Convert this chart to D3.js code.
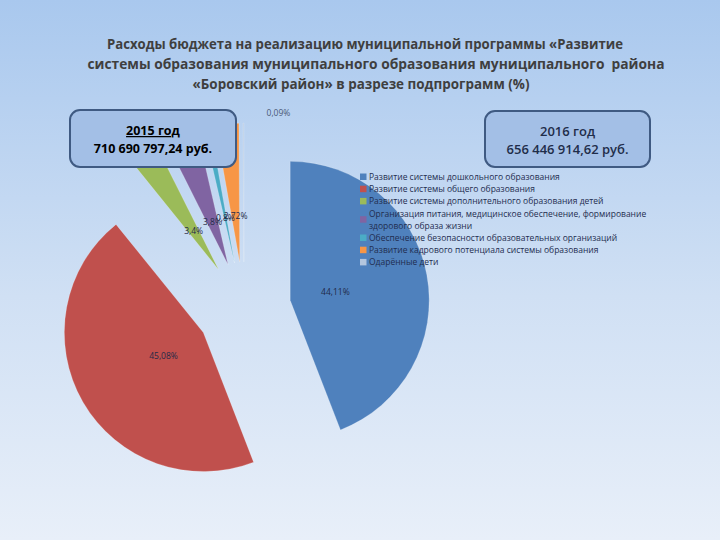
<!DOCTYPE html>
<html><head><meta charset="utf-8">
<script src="https://cdn.jsdelivr.net/npm/d3@7"></script>
<style>html,body{margin:0;padding:0;}svg{display:block;}</style>
</head><body>
<script>
const titleLines = [
  "Расходы бюджета на реализацию муниципальной программы «Развитие",
  "системы образования муниципального образования муниципального  района",
  "«Боровский район» в разрезе подпрограмм (%)"
];
const categories = [
  ["Развитие системы дошкольного образования"],
  ["Развитие системы общего образования"],
  ["Развитие системы дополнительного образования детей"],
  ["Организация питания, медицинское обеспечение, формирование", "здорового образа жизни"],
  ["Обеспечение безопасности образовательных организаций"],
  ["Развитие кадрового потенциала системы образования"],
  ["Одарённые дети"]
];
const values = [44.11, 45.08, 3.4, 3.8, 0.8, 2.72, 0.09];
const valueLabels = ["44,11%", "45,08%", "3,4%", "3,8%", "0,8%", "2,72%", "0,09%"];
const colors = ["#4F81BD", "#C0504D", "#9BBB59", "#8064A2", "#4BACC6", "#F79646", "#B3C6DE"];
const box2015 = ["2015 год", "710 690 797,24 руб."];
const box2016 = ["2016 год", "656 446 914,62 руб."];

const W = 720, H = 540;
const svg = d3.select("body").append("svg").attr("width", W).attr("height", H);
const defs = svg.append("defs");
const grad = defs.append("linearGradient").attr("id", "bg").attr("x1", 0).attr("y1", 0).attr("x2", 0).attr("y2", 1);
grad.append("stop").attr("offset", "0%").attr("stop-color", "#a9c8ee");
grad.append("stop").attr("offset", "55%").attr("stop-color", "#d0e0f4");
grad.append("stop").attr("offset", "100%").attr("stop-color", "#e8eff9");
svg.append("rect").attr("width", W).attr("height", H).attr("fill", "url(#bg)");

const titleLayout = [{ x: 365, w: 516 }, { x: 376, w: 577 }, { x: 361, w: 337 }];
svg.append("g").selectAll("text").data(titleLines).join("text")
  .attr("x", (d, i) => titleLayout[i].x).attr("y", (d, i) => 49 + i * 20)
  .attr("text-anchor", "middle")
  .attr("textLength", (d, i) => titleLayout[i].w).attr("lengthAdjust", "spacingAndGlyphs")
  .attr("font-family", "'Open Sans', sans-serif").attr("font-weight", "bold")
  .attr("font-size", 15).attr("fill", "#3f3f3f")
  .style("white-space", "pre")
  .text(d => d);

// Pie (exploded)
const cx = 244, cy = 309, R = 139, explode = 47;
const pie = d3.pie().sort(null).value(d => d);
const arcs = pie(values);
const arc = d3.arc().innerRadius(0).outerRadius(R);
const pieG = svg.append("g").attr("transform", `translate(${cx},${cy})`);
const mid = a => (a.startAngle + a.endAngle) / 2;
const off = a => [Math.sin(mid(a)) * explode, -Math.cos(mid(a)) * explode];
pieG.selectAll("path").data(arcs).join("path")
  .attr("transform", d => `translate(${off(d)})`)
  .attr("d", arc)
  .attr("fill", (d, i) => colors[i])
  .attr("stroke", "rgba(255,255,255,0.35)").attr("stroke-width", 0.6);

const labelArc = d3.arc().innerRadius(46).outerRadius(46);
pieG.selectAll("text.lbl").data(arcs).join("text").attr("class", "lbl")
  .attr("transform", (d, i) => {
    const o = off(d);
    if (i === 6) {
      return `translate(${o[0] + Math.sin(mid(d)) * (R + 10) + 35},${o[1] - Math.cos(mid(d)) * (R + 10)})`;
    }
    const c = labelArc.centroid(d);
    return `translate(${c[0] + o[0]},${c[1] + o[1]})`;
  })
  .attr("text-anchor", "middle").attr("dy", "0.35em")
  .attr("font-family", "'Open Sans', sans-serif").attr("font-size", 8.5)
  .attr("fill", (d, i) => i === 6 ? "#4a5a78" : "#1f2a48")
  .text((d, i) => valueLabels[i]);

// Legend
const legend = svg.append("g").attr("font-family", "'Open Sans', sans-serif").attr("font-size", 8.5).attr("fill", "#1f2d50");
let ly = 177;
const step = 12.2;
categories.forEach((lines, i) => {
  const n = lines.length;
  const m = ly + (n - 1) * step / 2;
  legend.append("rect").attr("x", 360).attr("y", m - 3.5).attr("width", 6.5).attr("height", 6.5).attr("fill", colors[i]);
  lines.forEach((t, j) => {
    legend.append("text").attr("x", 369).attr("y", ly + j * step).attr("dy", "0.35em").text(t);
  });
  ly += n * step;
});

// Boxes
function box(x, y, w, h, lines, opts) {
  const g = svg.append("g");
  g.append("rect").attr("x", x).attr("y", y).attr("width", w).attr("height", h).attr("rx", 10)
    .attr("fill", "#a3bfe6").attr("stroke", "#3f5a82").attr("stroke-width", 2);
  lines.forEach((t, j) => {
    const tx = g.append("text").attr("x", x + w / 2).attr("y", y + opts.top + j * opts.gap)
      .attr("text-anchor", "middle").attr("font-family", "'Open Sans', sans-serif")
      .attr("font-size", opts.size).attr("font-weight", opts.weight).attr("fill", opts.color).text(t);
    if (j === 0 && opts.underline) tx.attr("text-decoration", "underline");
  });
}
box(70, 110, 166, 57, box2015, { size: 12.5, weight: "bold", color: "#000", top: 25, gap: 18, underline: true });
box(485, 111, 165, 56, box2016, { size: 13, weight: 600, color: "#1f2d4a", top: 25, gap: 18, underline: false });
</script>
</body></html>
